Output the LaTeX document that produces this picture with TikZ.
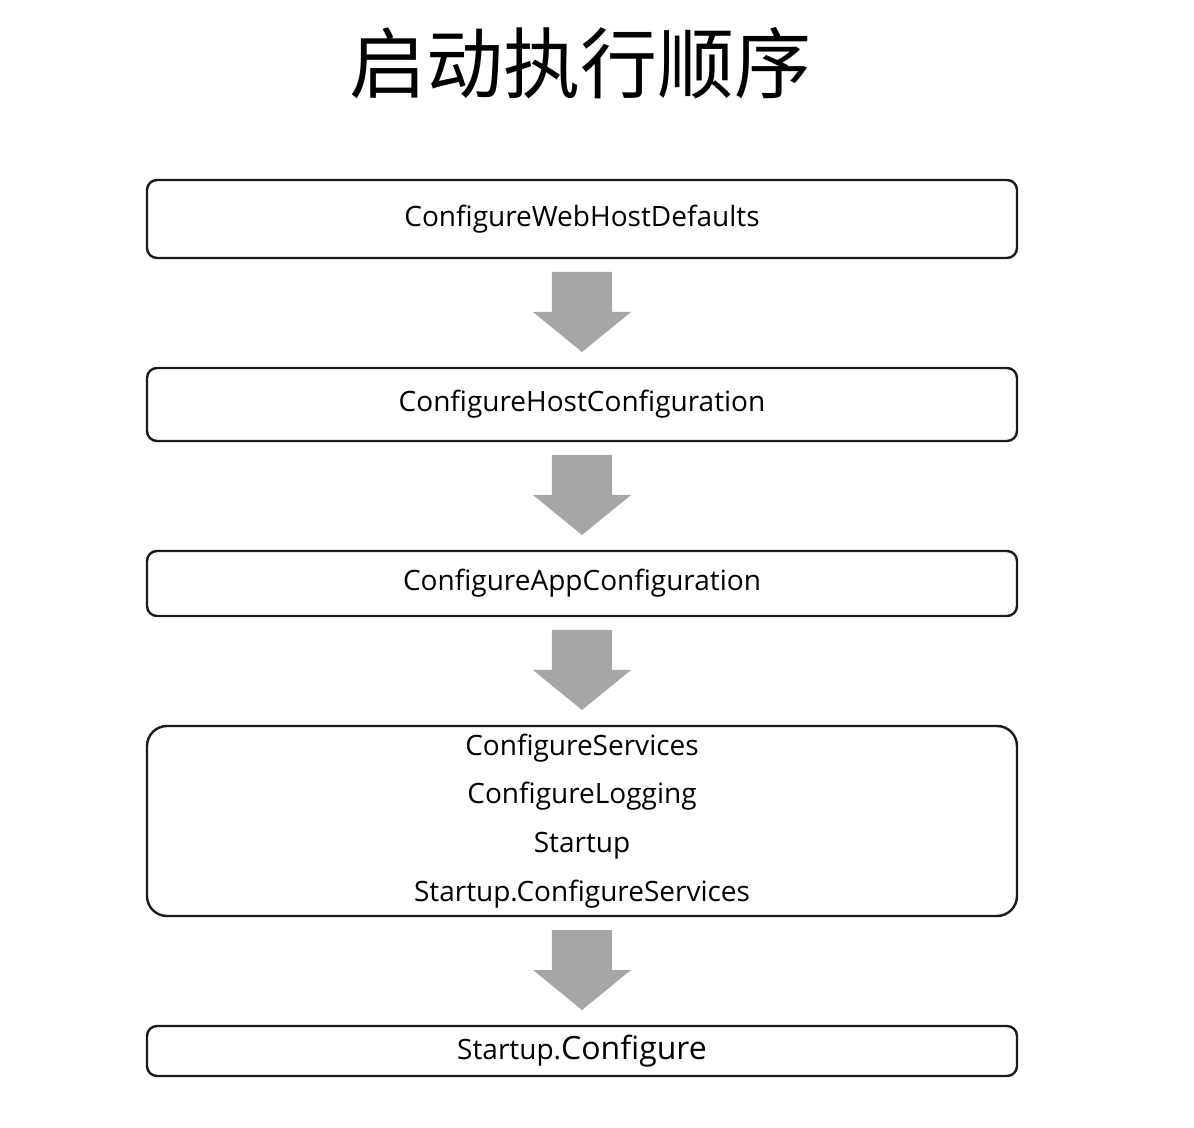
\documentclass[tikz,border=0pt]{standalone}
\usepackage{fontspec}
\setmainfont{Open Sans}
\newfontfamily\cjk{Noto Sans CJK SC}
\usepackage{tikz}
\usepackage{xcolor}
\usetikzlibrary{positioning, calc}

\definecolor{stepgray}{HTML}{A6A6A6}
\definecolor{boxline}{HTML}{1A1A1A}

% fat grey arrow between two boxes
\newcommand{\flowstep}[2]{%
  \fill[stepfill]
    ($(#1.south)+(-15pt,-7pt)$) -- ($(#1.south)+(15pt,-7pt)$)
    -- ($(#2.north)+(15pt,28pt)$) -- ($(#2.north)+(24.5pt,28pt)$)
    -- ($(#2.north)+(0,8pt)$)
    -- ($(#2.north)+(-24.5pt,28pt)$) -- ($(#2.north)+(-15pt,28pt)$) -- cycle;}

\begin{document}
\begin{tikzpicture}[
    node distance=55pt,
    box/.style={
        rectangle,
        rounded corners=5pt,
        draw=boxline,
        line width=1.2pt,
        align=center,
        minimum width=435pt,
        inner sep=0pt,
        outer sep=0pt,
        font=\fontsize{14}{24.4}\selectfont
    },
    stepfill/.style={fill=stepgray}
]
\useasboundingbox (-291pt,109.5pt) rectangle (306pt,-454.5pt);

\node[font=\cjk\fontsize{38.5}{40}\selectfont] (title) at (-0.5pt,78pt) {启动执行顺序};

\node[box, minimum height=39pt] (webhost) at (0,0) {ConfigureWebHostDefaults};
\node[box, minimum height=36.5pt, below=of webhost] (hostcfg) {ConfigureHostConfiguration};
\node[box, minimum height=32.5pt, below=of hostcfg] (appcfg) {ConfigureAppConfiguration};
\node[box, minimum height=95pt, rounded corners=10pt, below=of appcfg] (services)
    {ConfigureServices\\ConfigureLogging\\Startup\\Startup.ConfigureServices};
\node[box, minimum height=25pt, below=of services] (configure)
    {Startup.{\fontsize{16}{18}\selectfont Configure}};

\flowstep{webhost}{hostcfg}
\flowstep{hostcfg}{appcfg}
\flowstep{appcfg}{services}
\flowstep{services}{configure}

\end{tikzpicture}
\end{document}
